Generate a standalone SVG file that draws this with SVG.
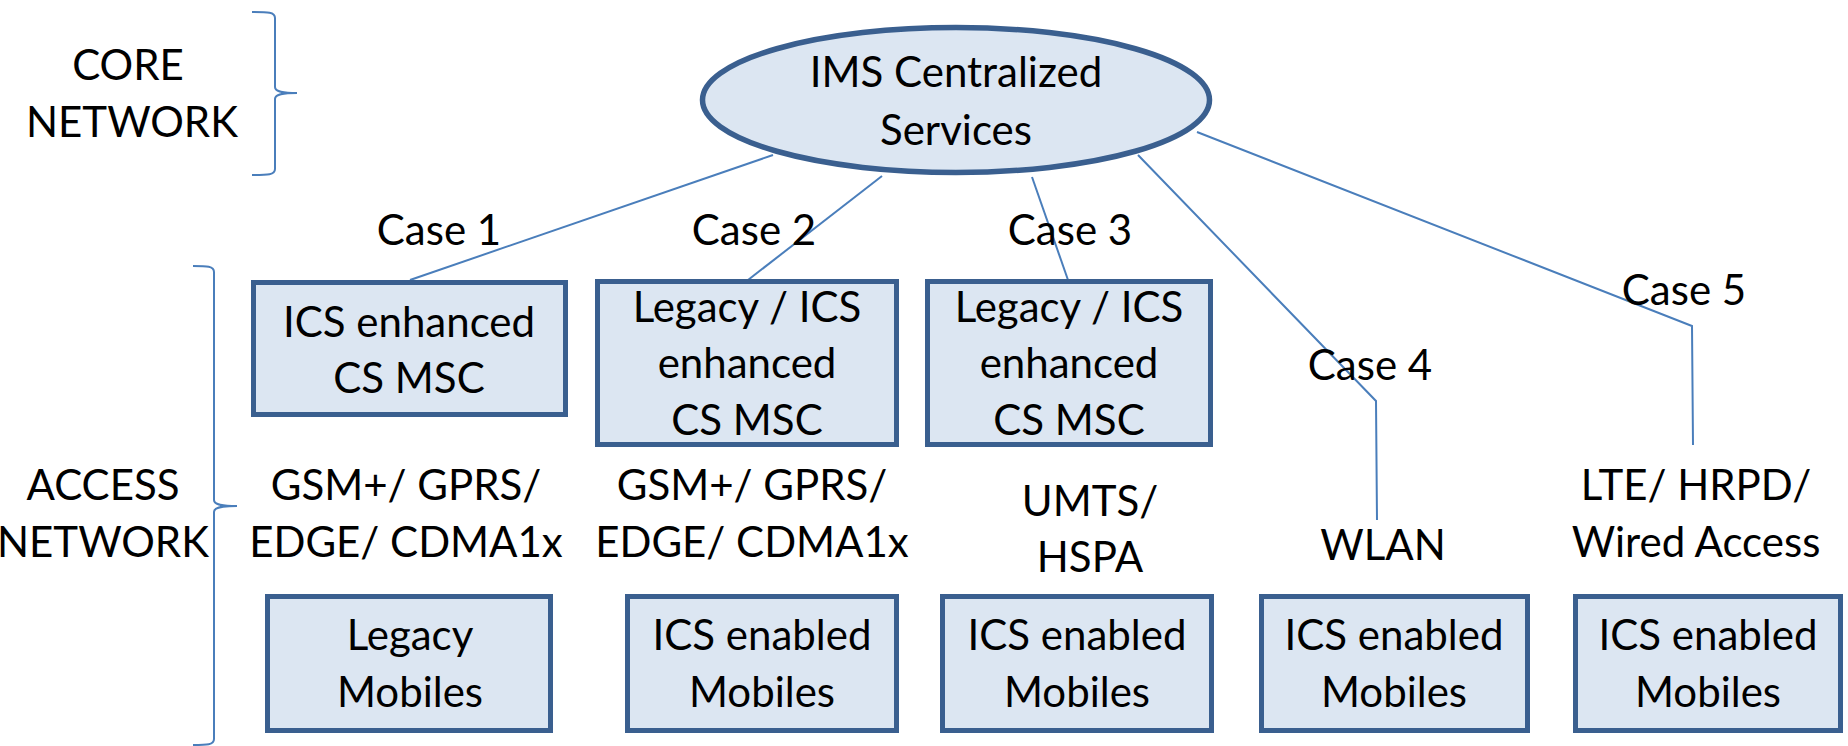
<svg xmlns="http://www.w3.org/2000/svg" width="1848" height="746" viewBox="0 0 1848 746">
<style>
.bg{fill:#ffffff}
.node{fill:#DCE6F2;stroke:#3A5F8F;stroke-width:5}
.oval{fill:#DCE6F2;stroke:#3A5F8F;stroke-width:5.5}
.conn{fill:none;stroke:#4A7EBB;stroke-width:2}
.brace{fill:none;stroke:#4A7EBB;stroke-width:2}
text{font-family:Lato,"Open Sans","Liberation Sans",sans-serif;font-size:42px;fill:#000;text-anchor:middle}
</style>
<rect class="bg" x="0" y="0" width="1848" height="746"/>
<g id="connectors">
<path class="conn" d="M773,155 L410,280"/>
<path class="conn" d="M882,176 L748,280"/>
<path class="conn" d="M1032,177 L1068,280"/>
<path class="conn" d="M1138,155 L1376,401 L1377,520"/>
<path class="conn" d="M1197,132 L1692,326 L1693,445"/>
</g>
<g id="braces">
<path class="brace" d="M252,12 C268,12 275,12 275,18 L275,87 C275,91 280,93 297,93 C280,93 275,95 275,99 L275,169 C275,175 268,175 252,175"/>
<path class="brace" d="M193,266 C207,266 214,266 214,272 L214,500 C214,504 219,506 237,506 C219,506 214,508 214,512 L214,739 C214,745 207,745 193,745"/>
</g>
<g id="labels">
<text x="128" y="80">CORE</text>
<text x="132" y="137">NETWORK</text>
<text x="103" y="500">ACCESS</text>
<text x="103" y="557">NETWORK</text>
<text x="439" y="245">Case 1</text>
<text x="754" y="245">Case 2</text>
<text x="1070" y="245">Case 3</text>
<text x="1370" y="380">Case 4</text>
<text x="1684" y="305">Case 5</text>
<text x="406" y="500">GSM+/ GPRS/</text>
<text x="406" y="557">EDGE/ CDMA1x</text>
<text x="752" y="500">GSM+/ GPRS/</text>
<text x="752" y="557">EDGE/ CDMA1x</text>
<text x="1090" y="516">UMTS/</text>
<text x="1090" y="572">HSPA</text>
<text x="1383" y="560">WLAN</text>
<text x="1696" y="500">LTE/ HRPD/</text>
<text x="1696" y="557">Wired Access</text>
</g>
<g id="ims">
<ellipse class="oval" cx="956" cy="100" rx="253.5" ry="72.5"/>
<text x="956" y="87">IMS Centralized</text>
<text x="956" y="145">Services</text>
</g>
<g id="msc1">
<rect class="node" x="253.5" y="282.5" width="312" height="132"/>
<text x="409" y="337">ICS enhanced</text>
<text x="409" y="393">CS MSC</text>
</g>
<g id="msc2">
<rect class="node" x="597.5" y="281.5" width="299" height="163"/>
<text x="747" y="322">Legacy / ICS</text>
<text x="747" y="378">enhanced</text>
<text x="747" y="435">CS MSC</text>
</g>
<g id="msc3">
<rect class="node" x="927.5" y="281.5" width="283" height="163"/>
<text x="1069" y="322">Legacy / ICS</text>
<text x="1069" y="378">enhanced</text>
<text x="1069" y="435">CS MSC</text>
</g>
<g id="mob1">
<rect class="node" x="267.5" y="596.5" width="283" height="134"/>
<text x="410" y="650">Legacy</text>
<text x="410" y="707">Mobiles</text>
</g>
<g id="mob2">
<rect class="node" x="627.5" y="596.5" width="269" height="134"/>
<text x="762" y="650">ICS enabled</text>
<text x="762" y="707">Mobiles</text>
</g>
<g id="mob3">
<rect class="node" x="942.5" y="596.5" width="269" height="134"/>
<text x="1077" y="650">ICS enabled</text>
<text x="1077" y="707">Mobiles</text>
</g>
<g id="mob4">
<rect class="node" x="1261.5" y="596.5" width="266" height="134"/>
<text x="1394" y="650">ICS enabled</text>
<text x="1394" y="707">Mobiles</text>
</g>
<g id="mob5">
<rect class="node" x="1575.5" y="596.5" width="265" height="134"/>
<text x="1708" y="650">ICS enabled</text>
<text x="1708" y="707">Mobiles</text>
</g>
</svg>
